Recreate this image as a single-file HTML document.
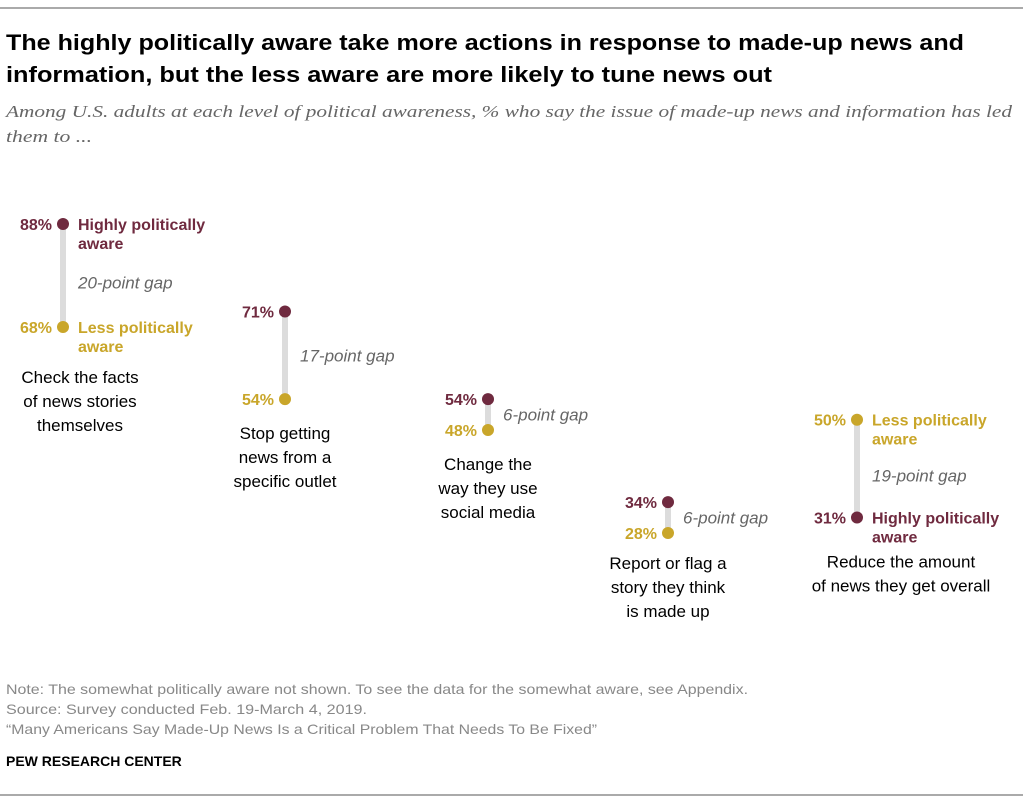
<!DOCTYPE html>
<html><head><meta charset="utf-8"><style>
body{margin:0;background:#fff;width:1023px;height:804px;overflow:hidden;font-family:"Liberation Sans",sans-serif}
svg{position:absolute;left:0;top:0}
</style></head><body>
<svg id="c" width="1023" height="804">
<line x1="0" y1="8" x2="1023" y2="8" stroke="#555" stroke-width="1"/>
<text x="6" y="50" font-size="22" font-weight="bold" fill="#000" textLength="958" lengthAdjust="spacingAndGlyphs">The highly politically aware take more actions in response to made-up news and</text>
<text x="6" y="82" font-size="22" font-weight="bold" fill="#000" textLength="766" lengthAdjust="spacingAndGlyphs">information, but the less aware are more likely to tune news out</text>
<text x="6" y="117" font-size="17" font-style="italic" fill="#666" font-family="Liberation Serif,serif" textLength="1006" lengthAdjust="spacingAndGlyphs">Among U.S. adults at each level of political awareness, % who say the issue of made-up news and information has led</text>
<text x="6" y="142" font-size="17" font-style="italic" fill="#666" font-family="Liberation Serif,serif" textLength="86" lengthAdjust="spacingAndGlyphs">them to ...</text>
<g id="plot"></g>
<text x="6" y="694" font-size="14" fill="#888" textLength="742" lengthAdjust="spacingAndGlyphs">Note: The somewhat politically aware not shown. To see the data for the somewhat aware, see Appendix.</text>
<text x="6" y="714" font-size="14" fill="#888" textLength="361" lengthAdjust="spacingAndGlyphs">Source: Survey conducted Feb. 19-March 4, 2019.</text>
<text x="6" y="734" font-size="14" fill="#888" textLength="591" lengthAdjust="spacingAndGlyphs">“Many Americans Say Made-Up News Is a Critical Problem That Needs To Be Fixed”</text>
<text x="6" y="766" font-size="14" font-weight="bold" fill="#000">PEW RESEARCH CENTER</text>
<line x1="0" y1="795" x2="1023" y2="795" stroke="#555" stroke-width="1"/>
</svg>
<script>
const categories=[["Check the facts","of news stories","themselves"],["Stop getting","news from a","specific outlet"],["Change the","way they use","social media"],["Report or flag a","story they think","is made up"],["Reduce the amount","of news they get overall"]];
const highValues=[88,71,54,34,31];
const lessValues=[68,54,48,28,50];
const xs=[63,285,488,668,857];
const M="#6f2a3f",G="#c9a62a",NS="http://www.w3.org/2000/svg";
const y=v=>224+(88-v)*5.15;
const plot=document.getElementById('plot');
function mk(tag,attrs,txt){const e=document.createElementNS(NS,tag);for(const k in attrs)e.setAttribute(k,attrs[k]);if(txt!=null)e.textContent=txt;plot.appendChild(e);return e;}
categories.forEach((cat,i)=>{
 const x=xs[i],h=highValues[i],l=lessValues[i],yh=y(h),yl=y(l);
 const bar=mk('line',{x1:x,x2:x,y1:yh,y2:yl,stroke:'#dcdcdc','stroke-width':6});
 
 
 [[h,yh,M,'high'],[l,yl,G,'less']].forEach(([v,yy,col,nm])=>{
  const d=mk('circle',{cx:x,cy:yy,r:6,fill:col});
  
  
  const t=mk('text',{x:x-11,y:yy+6,'text-anchor':'end','font-size':16,'font-weight':'bold',fill:col},v+'%');
  
  
 });
 const gap=Math.abs(h-l),ymid=(yh+yl)/2;
 const big=(i===0||i===4);
 const g=mk('text',{x:x+15,y:ymid+(big?13:6),'font-size':17,'font-style':'italic',fill:'#666'},gap+'-point gap');
 
 
 if(big){
  const top=Math.min(yh,yl),bot=Math.max(yh,yl);
  const topHigh=yh<yl;
  [[top,topHigh],[bot,!topHigh]].forEach(([yy,isHigh])=>{
   const col=isHigh?M:G;
   const lines=[isHigh?'Highly politically':'Less politically','aware'];
   lines.forEach((s,j)=>{const t=mk('text',{x:x+15,y:yy+6+j*19,'font-size':16,'font-weight':'bold',fill:col},s);
    
    });
  });
 }
 const base=Math.max(yh,yl)+(i===0?56:(i===4?50:(i===3?36:40)));
 cat.forEach((s,j)=>{const t=mk('text',{x:i===0?80:(i===4?x+44:x),y:base+j*24,'text-anchor':'middle','font-size':17,fill:'#000'},s);
  
  });
});
</script>
</body></html>
